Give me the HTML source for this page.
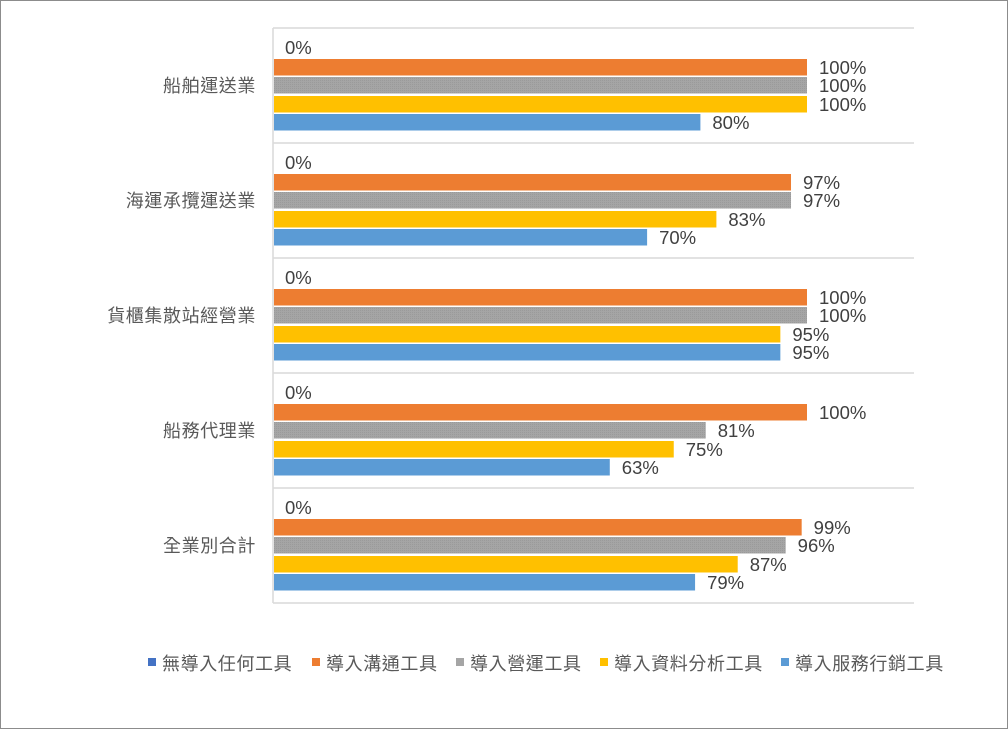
<!DOCTYPE html>
<html><head><meta charset="utf-8"><style>
html,body{margin:0;padding:0;background:#fff}
svg{display:block}
text{font-family:"Liberation Sans","Noto Sans CJK TC",sans-serif;fill:#404040}
</style></head><body>
<svg width="1008" height="729" xmlns="http://www.w3.org/2000/svg">
<defs>
<pattern id="dots" width="2" height="2" patternUnits="userSpaceOnUse">
<rect width="2" height="2" fill="#a5a5a5"/><rect width="1" height="1" fill="#9a9a9a"/>
</pattern>
</defs>
<rect x="0.5" y="0.5" width="1007" height="728" fill="#fff" stroke="#8c8c8c"/>
<g stroke="#d9d9d9" stroke-width="1.5">
<line x1="273" y1="28" x2="914" y2="28"/>
<line x1="273" y1="143" x2="914" y2="143"/>
<line x1="273" y1="258" x2="914" y2="258"/>
<line x1="273" y1="373" x2="914" y2="373"/>
<line x1="273" y1="488" x2="914" y2="488"/>
<line x1="273" y1="603" x2="914" y2="603"/>
<line x1="273" y1="28" x2="273" y2="603"/>
</g>
<g id="bars"></g>
<g font-size="18" text-anchor="end" letter-spacing="0.6">
<text x="256" y="92" style="fill:#595959">船舶運送業</text>
<text x="256" y="207" style="fill:#595959">海運承攬運送業</text>
<text x="256" y="322" style="fill:#595959">貨櫃集散站經營業</text>
<text x="256" y="437" style="fill:#595959">船務代理業</text>
<text x="256" y="552" style="fill:#595959">全業別合計</text>
</g>
<g font-size="18" letter-spacing="0.6">
<rect x="148" y="658" width="8" height="8" fill="#4472c4"/><text x="162" y="670" style="fill:#595959">無導入任何工具</text>
<rect x="312" y="658" width="8" height="8" fill="#ed7d31"/><text x="326" y="670" style="fill:#595959">導入溝通工具</text>
<rect x="456" y="658" width="8" height="8" fill="#a5a5a5"/><text x="470" y="670" style="fill:#595959">導入營運工具</text>
<rect x="600" y="658" width="8" height="8" fill="#ffc000"/><text x="614" y="670" style="fill:#595959">導入資料分析工具</text>
<rect x="781" y="658" width="8" height="8" fill="#5b9bd5"/><text x="795" y="670" style="fill:#595959">導入服務行銷工具</text>
</g>
</svg>
<script>
var d=[[100,100,100,80],[97,97,83,70],[100,100,95,95],[100,81,75,63],[99,96,87,79]];
var cols=["#ed7d31","url(#dots)","#ffc000","#5b9bd5"],offs=[31,49,68,86];
var g=document.getElementById("bars"),h="";
d.forEach(function(r,c){var b=28+115*c;
h+='<text x="285" y="'+(b+26)+'" font-size="18.5">0%</text>';
r.forEach(function(v,i){var w=533*v/100,y=b+offs[i];
h+='<rect x="274" y="'+y+'" width="'+w+'" height="16.5" fill="'+cols[i]+'"/>';
h+='<text x="'+(274+w+12)+'" y="'+(y+15)+'" font-size="18.5">'+v+'%</text>';});});
g.innerHTML=h;
</script>
</body></html>
